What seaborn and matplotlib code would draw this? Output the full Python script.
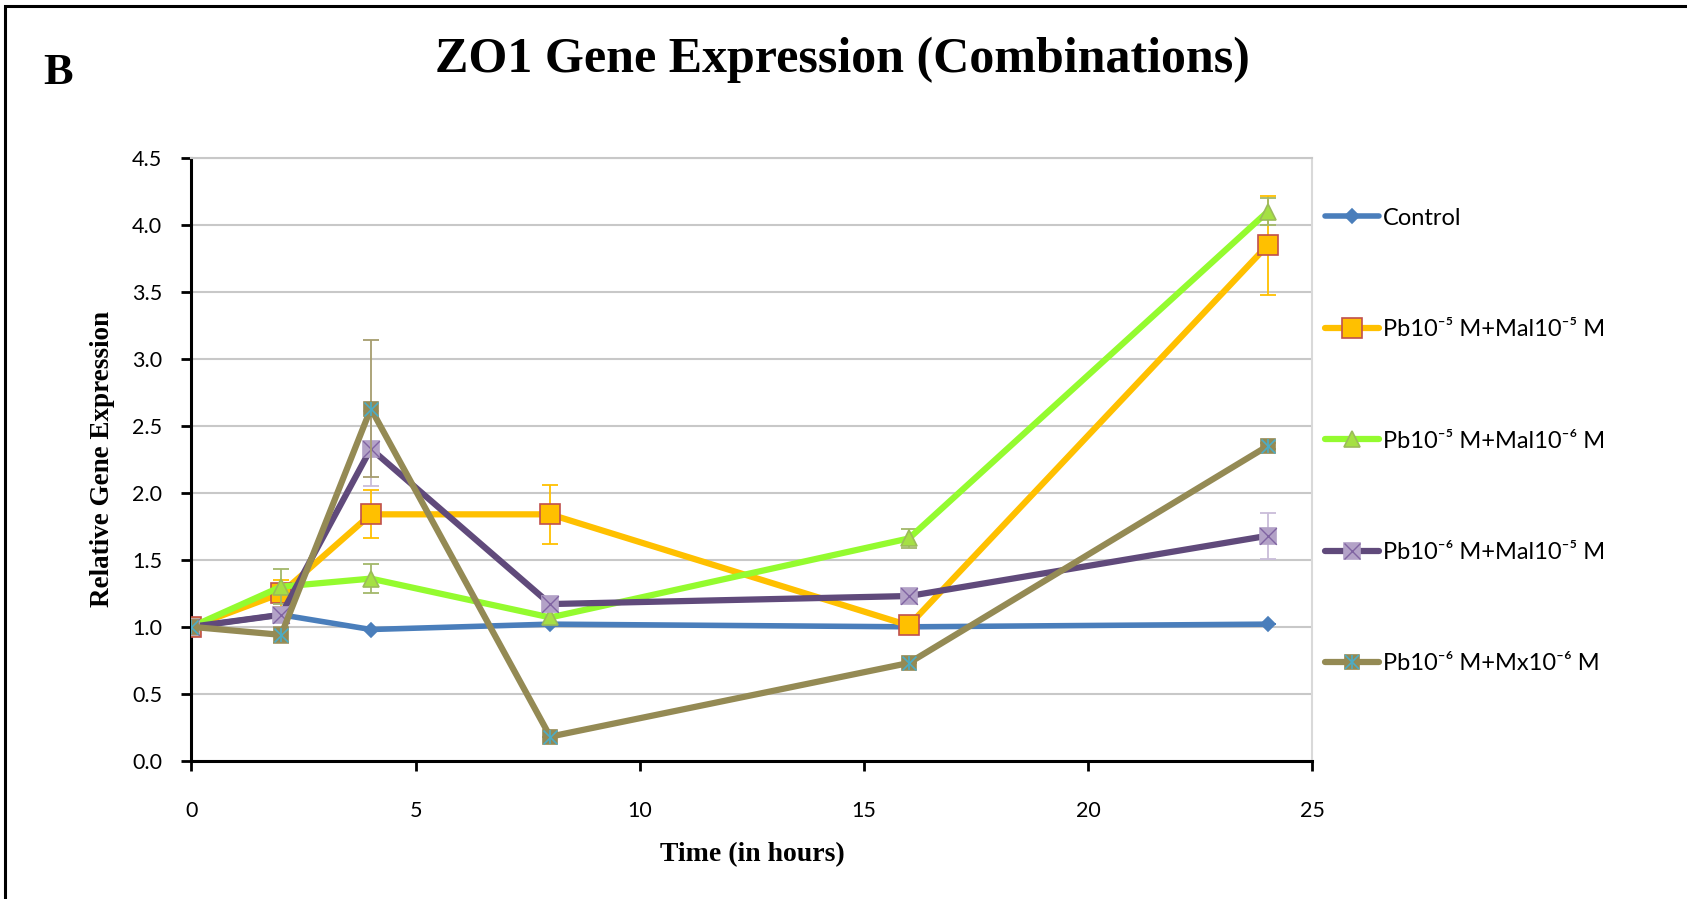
import matplotlib
matplotlib.use("Agg")
import matplotlib.pyplot as plt
from matplotlib.lines import Line2D
from matplotlib.legend_handler import HandlerTuple
from matplotlib.patches import Rectangle
import seaborn as sns
import pandas as pd

# ---- data -------------------------------------------------------------
hours = [0, 2, 4, 8, 16, 24]

control = [1.00, 1.09, 0.98, 1.02, 1.00, 1.02]
control_err = [0, 0, 0, 0, 0, 0]

pb5_mal5 = [1.00, 1.25, 1.84, 1.84, 1.01, 3.85]
pb5_mal5_err = [0, 0.10, 0.18, 0.22, 0, 0.37]

pb5_mal6 = [1.00, 1.30, 1.36, 1.07, 1.66, 4.10]
pb5_mal6_err = [0, 0.13, 0.11, 0, 0.07, 0.10]

pb6_mal5 = [1.00, 1.09, 2.33, 1.17, 1.23, 1.68]
pb6_mal5_err = [0, 0.03, 0.28, 0, 0, 0.17]

pb6_mx6 = [1.00, 0.94, 2.63, 0.18, 0.73, 2.35]
pb6_mx6_err = [0, 0.06, 0.51, 0, 0, 0.02]

labels = [
    "Control",
    "Pb10\u207b\u2075 M+Mal10\u207b\u2075 M",
    "Pb10\u207b\u2075 M+Mal10\u207b\u2076 M",
    "Pb10\u207b\u2076 M+Mal10\u207b\u2075 M",
    "Pb10\u207b\u2076 M+Mx10\u207b\u2076 M",
]
x_ticks = [0, 5, 10, 15, 20, 25]
y_ticks = [0.0, 0.5, 1.0, 1.5, 2.0, 2.5, 3.0, 3.5, 4.0, 4.5]

# ---- styling ------------------------------------------------------------
sns.set_theme(style="white")
plt.rcParams["font.family"] = ["Lato", "DejaVu Sans"]
plt.rcParams["text.color"] = "black"
plt.rcParams["axes.labelcolor"] = "black"

series = [
    dict(y=control, err=control_err, line="#4a7ebb", lw=4.0,
         marker="D", ms=7, mfc="#4a7ebb", mec="#4a7ebb", ecol="#4a7ebb",
         over=None),
    dict(y=pb5_mal5, err=pb5_mal5_err, line="#ffc000", lw=4.5,
         marker="s", ms=14, mfc="#ffc000", mec="#c0504d", ecol="#ffc000",
         over=None),
    dict(y=pb5_mal6, err=pb5_mal6_err, line="#94fb2f", lw=4.5,
         marker="^", ms=11, mfc="#a5e044", mec="#9bbb59", ecol="#a3b86a",
         over=None),
    dict(y=pb6_mal5, err=pb6_mal5_err, line="#604a7b", lw=4.5,
         marker="s", ms=12, mfc="#b3a2c7", mec="#b3a2c7", ecol="#c9bcd9",
         over=[("x", "#8064a2", 12, 1.0)]),
    dict(y=pb6_mx6, err=pb6_mx6_err, line="#948a54", lw=4.5,
         marker="s", ms=10, mfc="#948a54", mec="#948a54", ecol="#a69d6e",
         over=[("x", "#4bacc6", 10, 1.2), ("|", "#4bacc6", 10, 1.2)]),
]

fig = plt.figure(figsize=(16.87, 8.99), dpi=100)
ax = fig.add_axes([0.1135, 0.1538, 0.6645, 0.6703])

handles = []
for i, (s, lab) in enumerate(zip(series, labels)):
    z = 3 + i
    df = pd.DataFrame({"Time": hours, "Value": s["y"]})
    ax.errorbar(hours, s["y"], yerr=s["err"], fmt="none", ecolor=s["ecol"],
                elinewidth=1.3, capsize=6, capthick=1.3, zorder=z)
    sns.lineplot(data=df, x="Time", y="Value", ax=ax, color=s["line"],
                 linewidth=s["lw"], marker=s["marker"], markersize=s["ms"],
                 markerfacecolor=s["mfc"], markeredgecolor=s["mec"],
                 markeredgewidth=1.2, errorbar=None, legend=False, zorder=z)
    h_main = Line2D([], [], color=s["line"], linewidth=s["lw"],
                    marker=s["marker"], markersize=s["ms"],
                    markerfacecolor=s["mfc"], markeredgecolor=s["mec"],
                    markeredgewidth=1.2, solid_capstyle="round")
    parts = [h_main]
    if s["over"]:
        for mk, col, size, mew in s["over"]:
            sns.scatterplot(data=df, x="Time", y="Value", ax=ax, marker=mk,
                            s=size ** 2, color=col, linewidth=mew,
                            edgecolor=col, legend=False, zorder=z + 0.5)
            parts.append(Line2D([], [], linestyle="none", marker=mk,
                                markersize=size, color=col,
                                markeredgewidth=mew))
    handles.append(tuple(parts))

# ---- axes -------------------------------------------------------------------
ax.set_xlim(0, 25)
ax.set_ylim(0, 4.5)
ax.set_xticks(x_ticks)
ax.set_yticks(y_ticks)
ax.set_xticklabels([str(v) for v in x_ticks])
ax.set_yticklabels([f"{v:.1f}" for v in y_ticks])
ax.yaxis.grid(True, color="#c8c8c8", linewidth=1.5)
ax.xaxis.grid(False)
ax.set_axisbelow(True)

for side in ("left", "bottom"):
    ax.spines[side].set_color("black")
    ax.spines[side].set_linewidth(2.2)
ax.spines["top"].set_color("#c8c8c8")
ax.spines["top"].set_linewidth(1.5)
ax.spines["right"].set_color("#d9d9d9")
ax.spines["right"].set_linewidth(1.5)

ax.tick_params(axis="both", which="major", direction="out", length=7,
               width=2, color="black", labelsize=15.5, labelcolor="black")
ax.tick_params(axis="x", pad=22)
ax.tick_params(axis="y", pad=14)
ax.tick_params(left=True, bottom=True)

ax.set_xlabel("Time (in hours)", family="Liberation Serif", weight="bold",
              fontsize=20, labelpad=15, color="black")
ax.set_ylabel("Relative Gene Expression", family="Liberation Serif",
              weight="bold", fontsize=19.5, labelpad=12, color="black")

fig.text(0.4995, 0.933, "ZO1 Gene Expression (Combinations)",
         family="Liberation Serif", weight="bold", fontsize=36,
         ha="center", va="center", color="black")
fig.text(0.0345, 0.919, "B", family="Liberation Serif", weight="bold",
         fontsize=32, ha="center", va="center", color="black")

leg = fig.legend(handles, labels, loc="upper left",
                 bbox_to_anchor=(0.7855, 0.769), frameon=False, fontsize=17,
                 labelspacing=3.83, handlelength=2.3, handletextpad=0.15,
                 borderpad=0, borderaxespad=0,
                 handler_map={tuple: HandlerTuple(ndivide=1)})
for txt in leg.get_texts():
    txt.set_color("black")

# outer frame (left and top edges visible)
fig.add_artist(Rectangle((5 / 1687, -0.05), 1.2, 1.05 - 6 / 899,
                         transform=fig.transFigure, fill=False,
                         edgecolor="black", linewidth=2.2, clip_on=False))

fig.savefig("out.png", dpi=100)
